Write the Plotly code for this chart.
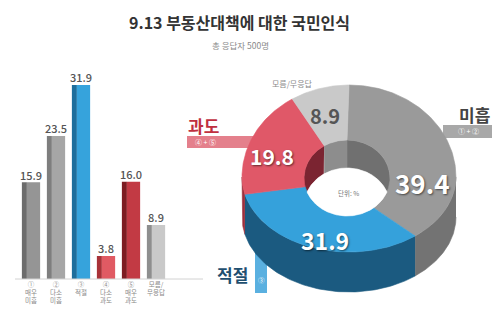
import numpy as np
import plotly.graph_objects as go

# ---------------- data ----------------
bar_categories = ["①<br>매우<br>미흡", "②<br>다소<br>미흡", "③<br>적절", "④<br>다소<br>과도", "⑤<br>매우<br>과도", "모름/<br>무응답"]
bar_values = [15.9, 23.5, 31.9, 3.8, 16.0, 8.9]
bar_face_colors = ["#959595", "#a6a6a6", "#36a3dc", "#e05a63", "#c23a44", "#c9c9c9"]
bar_side_colors = ["#6c6c6c", "#7e7e7e", "#1d6e9c", "#a83238", "#7d1c22", "#8e8e8e"]

donut_labels = ["미흡", "적절", "과도", "모름/무응답"]
donut_values = [39.4, 31.9, 19.8, 8.9]
donut_top_colors = ["#9a9a9a", "#35a1db", "#e05868", "#c9c9c9"]
donut_wall_colors = ["#737373", "#1b5a80", "#9c2f3c", "#9a9a9a"]
donut_inner_colors = ["#707070", "#1b5a80", "#7b2431", "#8d8d8d"]

FONT = "Noto Sans CJK KR"

fig = go.Figure()

# ---------------- bar chart ----------------
xs = list(range(len(bar_values)))
fig.add_trace(go.Bar(x=xs, y=bar_values, width=0.2, offset=-0.365,
                     marker=dict(color=bar_side_colors, line=dict(width=0)),
                     hoverinfo="skip", xaxis="x", yaxis="y"))
fig.add_trace(go.Bar(x=xs, y=bar_values, width=0.53, offset=-0.165,
                     marker=dict(color=bar_face_colors, line=dict(width=0)),
                     hoverinfo="skip", xaxis="x", yaxis="y"))
fig.add_trace(go.Scatter(x=xs, y=bar_values, mode="text",
                         text=[f"{v:.1f}" for v in bar_values],
                         textposition="top center",
                         textfont=dict(family=FONT, size=11, color="#555555", weight=500),
                         hoverinfo="skip", xaxis="x", yaxis="y"))

# ---------------- 3D donut (pixel-space axis) ----------------
CX, CY, RX, RYT, RYB, D = 349, 177, 107, 92, 75, 40
ICX, ICY, IRX, IRY, ID = 347, 178, 43, 38, 28


def outer_pt(t):
    c = np.cos(t)
    return CX + RX * np.sin(t), CY - np.where(c > 0, RYT, RYB) * c


def inner_pt(t):
    return ICX + IRX * np.sin(t), ICY - IRY * np.cos(t)


def poly(x, y, color):
    fig.add_trace(go.Scatter(x=x, y=y, mode="lines", fill="toself", fillcolor=color,
                             line=dict(width=0.6, color=color), hoverinfo="skip",
                             xaxis="x2", yaxis="y2"))


total = sum(donut_values)
bounds = np.concatenate([[0], np.cumsum(donut_values)]) / total * 2 * np.pi

# outer front walls
for i in range(len(donut_values)):
    a, b = max(bounds[i], np.pi / 2), min(bounds[i + 1], 3 * np.pi / 2)
    if a < b:
        ts = np.linspace(a, b, 80)
        x, y = outer_pt(ts)
        poly(np.concatenate([x, x[::-1]]), np.concatenate([y, y[::-1] + D]), donut_wall_colors[i])

# inner back walls
for i in range(len(donut_values)):
    for lo, hi in [(0, np.pi / 2), (3 * np.pi / 2, 2 * np.pi)]:
        a, b = max(bounds[i], lo), min(bounds[i + 1], hi)
        if a < b:
            ts = np.linspace(a, b, 60)
            x, y = inner_pt(ts)
            poly(np.concatenate([x, x[::-1]]), np.concatenate([y, y[::-1] + ID]), donut_inner_colors[i])

# top face
for i in range(len(donut_values)):
    ts = np.linspace(bounds[i], bounds[i + 1], 120)
    ox, oy = outer_pt(ts)
    ix, iy = inner_pt(ts[::-1])
    poly(np.concatenate([ox, ix, ox[:1]]), np.concatenate([oy, iy, oy[:1]]), donut_top_colors[i])

# hole (visible floor-less opening)
hx = np.linspace(ICX - IRX, ICX + IRX, 400)
u = np.sqrt(np.clip(1 - ((hx - ICX) / IRX) ** 2, 0, 1))
top2 = ICY + ID - IRY * u
bot1 = ICY + IRY * u
m = top2 <= bot1
poly(np.concatenate([hx[m], hx[m][::-1]]), np.concatenate([top2[m], bot1[m][::-1]]), "#ffffff")

# ---------------- annotations ----------------
ann = []


def txt(x, y, s, size, color, weight=400, shadow=None, xanchor="center"):
    f = dict(family=FONT, size=size, color=color, weight=weight)
    if shadow:
        f["shadow"] = shadow
    ann.append(dict(x=x, y=y, xref="x2", yref="y2", text=s, showarrow=False,
                    font=f, xanchor=xanchor, yanchor="middle"))


txt(239, 22, "9.13 부동산대책에 대한 국민인식", 16, "#333333", 700)
txt(240, 45, "총 응답자 500명", 8.5, "#8a8a8a")

sh = "1px 1px 2px rgba(0,0,0,0.55)"
txt(422, 182, f"{donut_values[0]:.1f}", 26, "#ffffff", 700, sh)
txt(325, 240, f"{donut_values[1]:.1f}", 23, "#ffffff", 700, sh)
txt(272, 156, f"{donut_values[2]:.1f}", 21, "#ffffff", 700, sh)
txt(325, 115, f"{donut_values[3]:.1f}", 20, "#555555", 700)
txt(348, 193, "단위: %", 6.5, "#777777")
txt(292, 83, donut_labels[3], 8, "#8a8a8a")

txt(474, 114, donut_labels[0], 17, "#444444", 700)
txt(468, 131, "① + ②", 7, "#ffffff")
txt(203, 125, donut_labels[2], 17, "#c0303f", 700)
txt(205, 142, "④ + ⑤", 7, "#ffffff")
txt(232, 274, donut_labels[1], 17, "#1f4f70", 700)
txt(261, 280, "③", 6.5, "#ffffff")

shapes = [
    dict(type="line", xref="x2", yref="y2", x0=15, x1=203, y0=279, y1=279,
         line=dict(color="#d2d2d2", width=1), layer="below"),
    dict(type="rect", xref="x2", yref="y2", x0=443, x1=492, y0=125, y1=138,
         fillcolor="#a8a8a8", line=dict(width=0), layer="below"),
    dict(type="rect", xref="x2", yref="y2", x0=187, x1=255, y0=136, y1=148,
         fillcolor="#e4808c", line=dict(width=0), layer="below"),
    dict(type="rect", xref="x2", yref="y2", x0=255, x1=267, y0=245, y1=293,
         fillcolor="#5ab0e0", line=dict(width=0), layer="below"),
]

fig.update_layout(
    width=500, height=333, margin=dict(l=0, r=0, t=0, b=0),
    paper_bgcolor="#ffffff", plot_bgcolor="rgba(0,0,0,0)",
    showlegend=False, barmode="overlay",
    xaxis=dict(domain=[18.5 / 500, 168.5 / 500], range=[-0.5, 5.5],
               tickmode="array", tickvals=xs, ticktext=bar_categories,
               tickfont=dict(family=FONT, size=6.5, color="#8a8a8a"),
               ticks="", showgrid=False, zeroline=False, showline=False,
               fixedrange=True),
    yaxis=dict(domain=[(333 - 279) / 333, (333 - 35.8) / 333], range=[0, 40],
               visible=False, fixedrange=True),
    xaxis2=dict(domain=[0, 1], range=[0, 500], visible=False, anchor="y2", fixedrange=True),
    yaxis2=dict(domain=[0, 1], range=[333, 0], visible=False, anchor="x2", fixedrange=True),
    annotations=ann, shapes=shapes,
)

fig.write_html("out.html")
